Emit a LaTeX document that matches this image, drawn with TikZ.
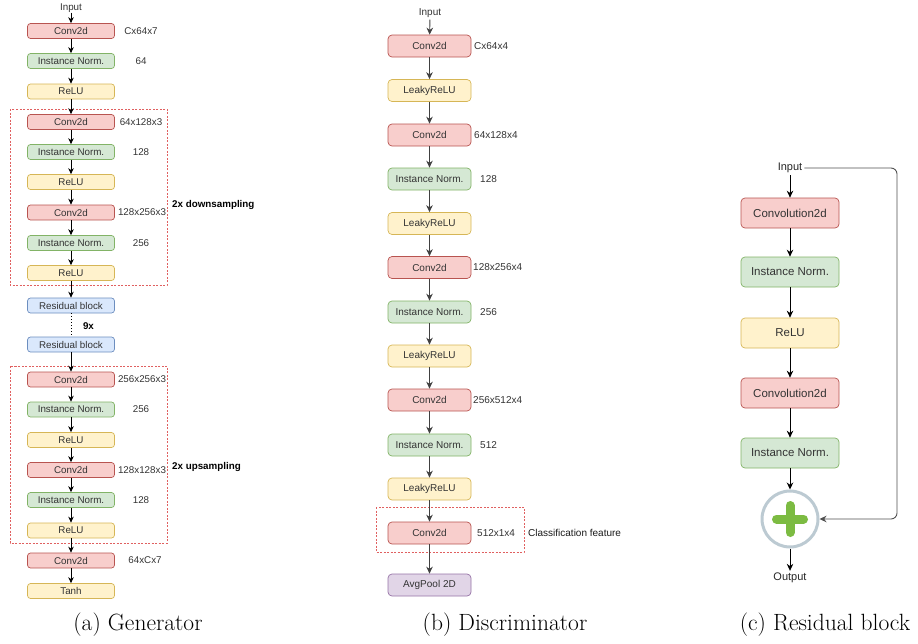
\documentclass[tikz,border=0pt]{standalone}
\usepackage{fontspec}
\setsansfont{Liberation Sans}
\usetikzlibrary{arrows.meta}

\definecolor{convfill}{HTML}{F8CECC}
\definecolor{convline}{HTML}{B85450}
\definecolor{normfill}{HTML}{D5E8D4}
\definecolor{normline}{HTML}{82B366}
\definecolor{relufill}{HTML}{FFF2CC}
\definecolor{reluline}{HTML}{D6B656}
\definecolor{resfill}{HTML}{DAE8FC}
\definecolor{resline}{HTML}{6C8EBF}
\definecolor{poolfill}{HTML}{E1D5E7}
\definecolor{poolline}{HTML}{9673A6}
\definecolor{groupred}{HTML}{E06060}
\definecolor{ringgray}{HTML}{BCCAD2}
\definecolor{plusgreen}{HTML}{7CBB42}
\definecolor{skipgray}{HTML}{505050}

\tikzset{
    box/.style={draw, rounded corners=3pt, line width=0.7pt, inner sep=0pt, text=black!80,
        font=\sffamily\fontsize{9.8}{11}\selectfont},
    gbox/.style={box, minimum width=87pt, minimum height=15pt},
    dbox/.style={box, minimum width=83pt, minimum height=22pt, rounded corners=4pt,
        font=\sffamily\fontsize{10}{12}\selectfont},
    rbox/.style={box, minimum width=98pt, minimum height=30pt, rounded corners=4pt,
        font=\sffamily\fontsize{11.5}{13}\selectfont},
    conv/.style={fill=convfill, draw=convline},
    norm/.style={fill=normfill, draw=normline},
    relu/.style={fill=relufill, draw=reluline},
    resblk/.style={fill=resfill, draw=resline},
    pool/.style={fill=poolfill, draw=poolline},
    lbl/.style={inner sep=0pt, text=black!80, font=\sffamily\fontsize{9.8}{11}\selectfont},
    dlbl/.style={lbl, anchor=west, font=\sffamily\fontsize{10}{12}\selectfont},
    note/.style={inner sep=0pt, anchor=west, font=\sffamily\bfseries\fontsize{9.8}{11}\selectfont},
    io/.style={inner sep=2pt, text=black!85},
    group/.style={draw=groupred, dash pattern=on 2pt off 1.5pt, line width=0.6pt},
    arr/.style={-{Stealth[length=6pt,width=5.5pt]}, line width=0.8pt},
    bigarr/.style={-{Stealth[length=7pt,width=6.5pt]}, line width=0.9pt},
    addnode/.style={circle, draw=ringgray, line width=3pt, fill=white, minimum size=56pt, inner sep=0pt},
    plus/.style={draw=plusgreen, line width=9pt, line cap=round},
    caption/.style={inner sep=0pt, font=\fontsize{23.5}{28}\selectfont},
}

\begin{document}
\begin{tikzpicture}[x=1pt, y=-1pt]
    \useasboundingbox (0,0) rectangle (918,643);

    % Generator
    \node[io, lbl] (gin) at (71,8) {Input};
    \node[gbox, conv] (g1) at (71,31) {Conv2d};
    \node[gbox, norm] (g2) at (71,61) {Instance Norm.};
    \node[gbox, relu] (g3) at (71,91.5) {ReLU};
    \node[gbox, conv] (g4) at (71,122) {Conv2d};
    \node[gbox, norm] (g5) at (71,152) {Instance Norm.};
    \node[gbox, relu] (g6) at (71,182) {ReLU};
    \node[gbox, conv] (g7) at (71,212.5) {Conv2d};
    \node[gbox, norm] (g8) at (71,243) {Instance Norm.};
    \node[gbox, relu] (g9) at (71,273) {ReLU};
    \node[gbox, resblk] (g10) at (71,305.5) {Residual block};
    \node[gbox, resblk] (g11) at (71,344.5) {Residual block};
    \node[gbox, conv] (g12) at (71,379.5) {Conv2d};
    \node[gbox, norm] (g13) at (71,409.5) {Instance Norm.};
    \node[gbox, relu] (g14) at (71,440) {ReLU};
    \node[gbox, conv] (g15) at (71,470) {Conv2d};
    \node[gbox, norm] (g16) at (71,500) {Instance Norm.};
    \node[gbox, relu] (g17) at (71,530.5) {ReLU};
    \node[gbox, conv] (g18) at (71,560.5) {Conv2d};
    \node[gbox, relu] (g19) at (71,591) {Tanh};

    % Generator sizes
    \node[lbl] (g1l) at (141,31) {Cx64x7};
    \node[lbl] (g2l) at (141,61) {64};
    \node[lbl] (g4l) at (141,122) {64x128x3};
    \node[lbl] (g5l) at (141,152) {128};
    \node[lbl] (g7l) at (142,212.5) {128x256x3};
    \node[lbl] (g8l) at (141,243) {256};
    \node[lbl] (g12l) at (142,379.5) {256x256x3};
    \node[lbl] (g13l) at (141,409.5) {256};
    \node[lbl] (g15l) at (142,470) {128x128x3};
    \node[lbl] (g16l) at (141,500) {128};
    \node[lbl] (g18l) at (145,560.5) {64xCx7};

    % Generator groups
    \draw[group] (10,109) rectangle (167,285);
    \draw[group] (10,366) rectangle (167,543);
    \node[note] (down) at (172,205) {2x downsampling};
    \node[note] (up) at (172,467) {2x upsampling};
    \node[note, anchor=center] (nine) at (88.5,326) {9x};

    % Generator edges
    \foreach \a/\b in {gin/g1, g1/g2, g2/g3, g3/g4, g4/g5, g5/g6, g6/g7, g7/g8, g8/g9, g9/g10,
        g11/g12, g12/g13, g13/g14, g14/g15, g15/g16, g16/g17, g17/g18, g18/g19}
        \draw[arr] (\a) -- (\b);
    \draw[dotted, line width=1pt] (g10) -- (g11);

    % Discriminator
    \node[io, font=\sffamily\fontsize{10}{12}\selectfont, text=black!80] (din) at (430,13) {Input};
    \node[dbox, conv] (d1) at (429.5,46) {Conv2d};
    \node[dbox, relu] (d2) at (429.5,90.5) {LeakyReLU};
    \node[dbox, conv] (d3) at (429.5,135) {Conv2d};
    \node[dbox, norm] (d4) at (429.5,179) {Instance Norm.};
    \node[dbox, relu] (d5) at (429.5,223.5) {LeakyReLU};
    \node[dbox, conv] (d6) at (429.5,267.5) {Conv2d};
    \node[dbox, norm] (d7) at (429.5,312) {Instance Norm.};
    \node[dbox, relu] (d8) at (429.5,356) {LeakyReLU};
    \node[dbox, conv] (d9) at (429.5,400) {Conv2d};
    \node[dbox, norm] (d10) at (429.5,445) {Instance Norm.};
    \node[dbox, relu] (d11) at (429.5,489) {LeakyReLU};
    \node[dbox, conv] (d12) at (429.5,533) {Conv2d};
    \node[dbox, pool] (d13) at (429.5,585) {AvgPool 2D};

    % Discriminator sizes
    \node[dlbl] (d1l) at (474,46) {Cx64x4};
    \node[dlbl] (d3l) at (474,135) {64x128x4};
    \node[dlbl] (d4l) at (480,179) {128};
    \node[dlbl] (d6l) at (473,267.5) {128x256x4};
    \node[dlbl] (d7l) at (480,312) {256};
    \node[dlbl] (d9l) at (473,400) {256x512x4};
    \node[dlbl] (d10l) at (480,445) {512};
    \node[dlbl] (d12l) at (477,533) {512x1x4};
    \draw[group] (376,507) rectangle (524,552);
    \node[dlbl, text=black!90] (cls) at (528,533) {Classification feature};

    % Discriminator edges
    \foreach \a/\b in {din/d1, d1/d2, d2/d3, d3/d4, d4/d5, d5/d6, d6/d7, d7/d8, d8/d9,
        d9/d10, d10/d11, d11/d12, d12/d13}
        \draw[bigarr, black!75] (\a) -- (\b);

    % Residual block
    \node[io, font=\sffamily\fontsize{11}{13}\selectfont] (rin) at (790,168) {Input};
    \node[rbox, conv] (r1) at (790,213) {Convolution2d};
    \node[rbox, norm] (r2) at (790,272) {Instance Norm.};
    \node[rbox, relu] (r3) at (790,333) {ReLU};
    \node[rbox, conv] (r4) at (790,393) {Convolution2d};
    \node[rbox, norm] (r5) at (790,453) {Instance Norm.};
    \node[addnode] (radd) at (790,519) {};
    \draw[plus] ([xshift=-13.5pt]radd.center) -- ([xshift=13.5pt]radd.center);
    \draw[plus] ([yshift=13.5pt]radd.center) -- ([yshift=-13.5pt]radd.center);
    \node[io, font=\sffamily\fontsize{11}{13}\selectfont] (rout) at (790,578) {Output};
    \coordinate (rskip) at (897,519);

    % Residual edges
    \foreach \a/\b in {rin/r1, r1/r2, r2/r3, r3/r4, r4/r5, r5/radd, radd/rout}
        \draw[bigarr] (\a) -- (\b);
    \draw[bigarr, skipgray, rounded corners=6pt] (rin.east) -- (rin.east -| rskip) -- (rskip) -- (radd.east);

    % Captions
    \node[caption] (capa) at (138,625) {(a) Generator};
    \node[caption] (capb) at (505,625) {(b) Discriminator};
    \node[caption] (capc) at (825,625) {(c) Residual block};
\end{tikzpicture}
\end{document}
